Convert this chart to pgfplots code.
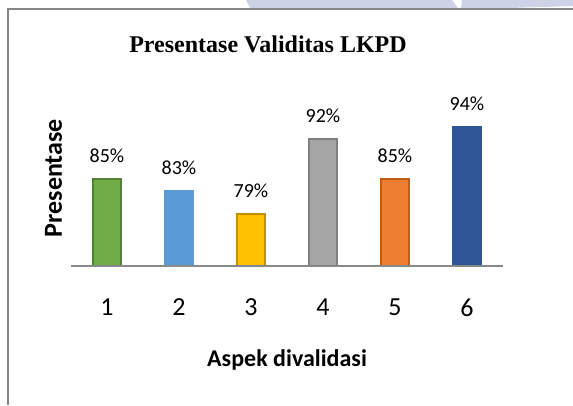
\documentclass[border=0pt]{standalone}
\usepackage{pgfplots}
\pgfplotsset{compat=1.18}
\usepackage{fontspec}
\setmainfont{Carlito}
\newfontfamily\titlefont{Liberation Serif}
\definecolor{framegray}{HTML}{878787}
\definecolor{wm}{HTML}{CED2E7}
\definecolor{c1}{HTML}{70AD47}\definecolor{c1d}{HTML}{548235}
\definecolor{c2}{HTML}{5B9BD5}
\definecolor{c3}{HTML}{FFC000}\definecolor{c3d}{HTML}{BF9000}
\definecolor{c4}{HTML}{A5A5A5}\definecolor{c4d}{HTML}{7F7F7F}
\definecolor{c5}{HTML}{ED7D31}\definecolor{c5d}{HTML}{C55A11}
\definecolor{c6}{HTML}{2F5597}
\definecolor{basegray}{HTML}{898989}
\begin{document}
\begin{tikzpicture}[x=1pt,y=1pt]
\begin{axis}[scale only axis,
  width=432pt, height=185.3pt,
  xmin=0.5, xmax=6.5, ymin=70, ymax=102,
  axis x line=bottom, axis y line=none,
  x axis line style={-, basegray, line width=1.5pt},
  axis on top,
  xtick={1,...,6}, xticklabels={1,2,3,4,5,6}, major tick length=0pt,
  xticklabel style={font=\fontsize{26}{30}\selectfont, anchor=center, yshift=-41.5pt},
  ytick=\empty,
  ybar, bar width=28pt,
  every axis plot/.append style={bar shift=0pt, line width=2pt},
  nodes near coords={\pgfmathprintnumber[assume math mode=true]{\pgfplotspointmeta}\%},
  every node near coord/.append style={anchor=center, yshift=23pt, font=\fontsize{20}{24}\selectfont, text=black},
  ]
\addplot[fill=c1, draw=c1d] coordinates {(1,85)};
\addplot[fill=c2, draw=c2] coordinates {(2,83)};
\addplot[fill=c3, draw=c3d] coordinates {(3,79)};
\addplot[fill=c4, draw=c4d] coordinates {(4,92)};
\addplot[fill=c5, draw=c5d] coordinates {(5,85)};
\addplot[fill=c6, draw=c6] coordinates {(6,94)};
\coordinate (O) at (rel axis cs:0,0);
\end{axis}
\pgfresetboundingbox
\begin{scope}[shift={(O)}]
\begin{scope}[shift={(-71,-139)}]
\useasboundingbox (0,0) rectangle (573,405);
\fill[wm] (246,405) -- (452,405) -- (458,397) -- (250,397) -- cycle;
\fill[wm] (462,405) -- (573,405) -- (573,399) -- (510,397) -- (461,397) -- cycle;
\fill[framegray] (7.3,0) rectangle (9.3,397);
\fill[framegray] (7.3,394.8) rectangle (573,397.2);
\node[font=\titlefont\bfseries\fontsize{24}{28}\selectfont, anchor=base] at (268,352) {Presentase Validitas LKPD};
\node[font=\bfseries\fontsize{26}{30}\selectfont, rotate=90, anchor=center] at (53.5,227) {Presentase};
\node[font=\bfseries\fontsize{24}{28}\selectfont, anchor=base] at (287,39) {Aspek divalidasi};
\end{scope}
\end{scope}
\end{tikzpicture}
\end{document}
